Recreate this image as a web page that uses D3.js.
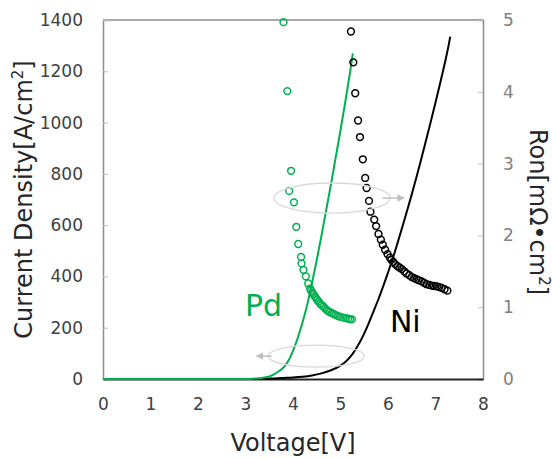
<!DOCTYPE html>
<html>
<head>
<meta charset="utf-8">
<script src="https://cdn.jsdelivr.net/npm/d3@7/dist/d3.min.js"></script>
<style>
html,body{margin:0;padding:0;background:#fff;}
text{font-family:"DejaVu Sans",Verdana,sans-serif;}
</style>
</head>
<body>
<svg id="chart" width="552" height="458"></svg>
<script>
// ---- data ----
const xTicks = [0,1,2,3,4,5,6,7,8];
const yLeftTicks = [0,200,400,600,800,1000,1200,1400];
const yRightTicks = [0,1,2,3,4,5];

// J-V curves [V, J(A/cm2)]
const pdJV = [[0,0],[3.0,0],[3.2,2],[3.4,6],[3.5,10],[3.6,18],[3.7,30],[3.8,45],[3.9,70],[4.0,110],[4.1,160],[4.2,220],[4.3,290],[4.4,375],[4.5,464],[4.6,560],[4.7,660],[4.8,760],[4.9,865],[5.0,970],[5.1,1080],[5.2,1195],[5.26,1270]];
const niJV = [[0,0],[3.3,0],[3.6,2],[3.8,4],[4.0,6],[4.2,9],[4.4,14],[4.6,22],[4.8,34],[5.0,52],[5.1,66],[5.2,85],[5.3,110],[5.4,141],[5.5,178],[5.6,220],[5.7,266],[5.8,312],[5.9,362],[6.0,415],[6.1,470],[6.2,530],[6.3,592],[6.4,655],[6.5,720],[6.6,788],[6.7,858],[6.8,930],[6.9,1003],[7.0,1078],[7.1,1155],[7.2,1235],[7.28,1305],[7.31,1335]];

// Ron points [V, Ron(mOhm cm2)]
const pdRon = [[3.80,4.97],[3.88,4.01],[3.96,2.90],[3.92,2.62],[4.02,2.46],[4.07,2.12],[4.11,1.88],[4.17,1.70],[4.18,1.61],[4.22,1.52],[4.27,1.43],[4.32,1.33],[4.36,1.26],[4.38,1.23],[4.41,1.20],[4.43,1.18],[4.46,1.15],[4.48,1.13],[4.51,1.10],[4.54,1.08],[4.57,1.05],[4.60,1.03],[4.64,1.01],[4.67,0.985],[4.71,0.96],[4.74,0.945],[4.78,0.93],[4.82,0.918],[4.86,0.905],[4.90,0.89],[4.95,0.877],[5.00,0.865],[5.06,0.854],[5.11,0.847],[5.16,0.84],[5.20,0.835],[5.24,0.83]];
const niRon = [[5.22,4.84],[5.27,4.41],[5.31,3.98],[5.37,3.60],[5.41,3.37],[5.47,3.06],[5.52,2.80],[5.55,2.66],[5.60,2.48],[5.63,2.33],[5.71,2.22],[5.75,2.13],[5.80,2.02],[5.85,1.94],[5.89,1.87],[5.94,1.80],[5.99,1.74],[6.04,1.69],[6.07,1.66],[6.11,1.63],[6.15,1.60],[6.20,1.57],[6.25,1.55],[6.29,1.53],[6.34,1.50],[6.39,1.47],[6.45,1.445],[6.50,1.42],[6.55,1.405],[6.60,1.39],[6.65,1.375],[6.71,1.36],[6.76,1.34],[6.81,1.32],[6.87,1.31],[6.92,1.30],[6.97,1.295],[7.03,1.29],[7.08,1.28],[7.13,1.27],[7.19,1.25],[7.25,1.23]];

const labels = {x:"Voltage[V]", yLeft:"Current Density[A/cm", yRight:"Ron[mΩ•cm"};

// ---- layout ----
const M = {left:103, right:483, top:20, bottom:379};
const svg = d3.select("#chart");
const x = d3.scaleLinear().domain([0,8]).range([M.left,M.right]);
const yL = d3.scaleLinear().domain([0,1400]).range([M.bottom,M.top]);
const yR = d3.scaleLinear().domain([0,5]).range([M.bottom,M.top]);

const green = "#00b050";

// frame: top line
svg.append("line").attr("x1",M.left).attr("x2",M.right).attr("y1",M.top).attr("y2",M.top)
  .attr("stroke","#8c8c8c").attr("stroke-width",1.5);

// left axis
const gL = svg.append("g").attr("transform",`translate(${M.left},0)`)
  .call(d3.axisLeft(yL).tickValues(yLeftTicks).tickSize(-5).tickPadding(20).tickFormat(d3.format("d")));
gL.select(".domain").attr("stroke","#8c8c8c").attr("stroke-width",1.5);
gL.selectAll(".tick line").attr("stroke","#bfbfbf");
gL.selectAll(".tick text").attr("fill","#404040").style("font-size","17px").style("font-family","DejaVu Sans, Verdana, sans-serif");

// right axis
const gR = svg.append("g").attr("transform",`translate(${M.right},0)`)
  .call(d3.axisRight(yR).tickValues(yRightTicks).tickSize(-5).tickPadding(20).tickFormat(d3.format("d")));
gR.select(".domain").attr("stroke","#8c8c8c").attr("stroke-width",1.5);
gR.selectAll(".tick line").attr("stroke","#bfbfbf");
gR.selectAll(".tick text").attr("fill","#808080").style("font-size","17px").style("font-family","DejaVu Sans, Verdana, sans-serif");

// bottom axis
const gB = svg.append("g").attr("transform",`translate(0,${M.bottom})`)
  .call(d3.axisBottom(x).tickValues(xTicks).tickSize(0).tickPadding(19));
gB.select(".domain").attr("stroke","#262626").attr("stroke-width",2);
gB.selectAll(".tick text").attr("fill","#404040").style("font-size","17px").style("font-family","DejaVu Sans, Verdana, sans-serif");

// J-V lines
const line = d3.line().x(d=>x(d[0])).y(d=>yL(d[1])).curve(d3.curveMonotoneX);
svg.append("path").datum(niJV).attr("d",line).attr("fill","none").attr("stroke","#000").attr("stroke-width",2);
svg.append("path").datum(pdJV).attr("d",line).attr("fill","none").attr("stroke",green).attr("stroke-width",2);

// Ron circles
svg.append("g").selectAll("circle").data(pdRon).join("circle")
  .attr("cx",d=>x(d[0])).attr("cy",d=>yR(d[1])).attr("r",3.4)
  .attr("fill","none").attr("stroke",green).attr("stroke-width",1.5);
svg.append("g").selectAll("circle").data(niRon).join("circle")
  .attr("cx",d=>x(d[0])).attr("cy",d=>yR(d[1])).attr("r",3.4)
  .attr("fill","none").attr("stroke","#000").attr("stroke-width",1.5);

// annotations (ellipses with arrows), positioned in data units
const defs = svg.append("defs");
defs.append("marker").attr("id","arr").attr("viewBox","0 0 10 10").attr("refX",9).attr("refY",5)
  .attr("markerWidth",5).attr("markerHeight",5).attr("orient","auto-start-reverse")
  .append("path").attr("d","M0,0 L10,5 L0,10 z").attr("fill","#bfbfbf");

const ann1 = {v:4.82, r:2.52, rv:1.22, rr:0.21, a0:5.88, a1:6.34};
svg.append("ellipse").attr("cx",x(ann1.v)).attr("cy",yR(ann1.r))
  .attr("rx",x(ann1.rv)-x(0)).attr("ry",yR(0)-yR(ann1.rr))
  .attr("fill","none").attr("stroke","#d9d9d9").attr("stroke-width",1.3);
svg.append("line").attr("x1",x(ann1.a0)).attr("x2",x(ann1.a1)).attr("y1",yR(ann1.r)).attr("y2",yR(ann1.r))
  .attr("stroke","#bfbfbf").attr("stroke-width",1.5).attr("marker-end","url(#arr)");

const ann2 = {v:4.49, j:89, rv:1.01, rj:43, a0:3.55, a1:3.23};
svg.append("ellipse").attr("cx",x(ann2.v)).attr("cy",yL(ann2.j))
  .attr("rx",x(ann2.rv)-x(0)).attr("ry",yL(0)-yL(ann2.rj))
  .attr("fill","none").attr("stroke","#d9d9d9").attr("stroke-width",1.3);
svg.append("line").attr("x1",x(ann2.a0)).attr("x2",x(ann2.a1)).attr("y1",yL(ann2.j)).attr("y2",yL(ann2.j))
  .attr("stroke","#bfbfbf").attr("stroke-width",1.5).attr("marker-end","url(#arr)");

// series labels
svg.append("text").attr("x",x(2.99)).attr("y",yL(247)).attr("fill",green)
  .style("font-size","30px").text("Pd");
svg.append("text").attr("x",x(6.04)).attr("y",yL(185)).attr("fill","#000")
  .style("font-size","30px").text("Ni");

// axis titles
svg.append("text").attr("x",(M.left+M.right)/2).attr("y",451).attr("text-anchor","middle")
  .attr("fill","#262626").style("font-size","24px").text(labels.x);

const tl = svg.append("text").attr("transform",`translate(32,${(M.top+M.bottom)/2}) rotate(-90)`)
  .attr("text-anchor","middle").attr("fill","#262626").style("font-size","24px");
tl.append("tspan").text(labels.yLeft);
tl.append("tspan").attr("dy",-9).style("font-size","15px").text("2");
tl.append("tspan").attr("dy",9).text("]");

const tr = svg.append("text").attr("transform",`translate(530,212) rotate(90)`)
  .attr("text-anchor","middle").attr("fill","#262626").style("font-size","24px");
tr.append("tspan").text(labels.yRight);
tr.append("tspan").attr("dy",-9).style("font-size","15px").text("2");
tr.append("tspan").attr("dy",9).text("]");
</script>
</body>
</html>
